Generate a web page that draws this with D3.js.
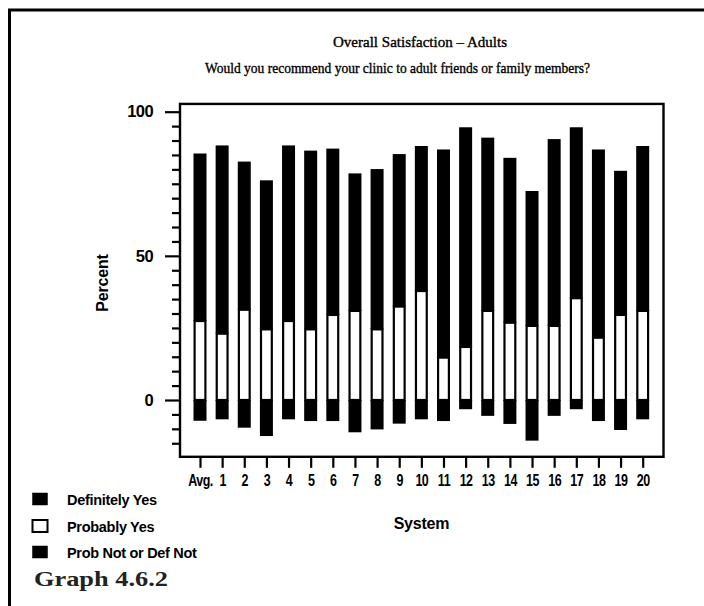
<!DOCTYPE html>
<html><head><meta charset="utf-8">
<script src="https://cdn.jsdelivr.net/npm/d3@7"></script>
<style>
html,body{margin:0;padding:0;background:#fff;}
svg{display:block;}
</style></head>
<body>
<script>
const categories = ["Avg.","1","2","3","4","5","6","7","8","9","10","11","12","13","14","15","16","17","18","19","20"];
const definitelyYes = [58.1,65.3,51.4,51.7,60.9,62.0,57.7,47.7,55.6,52.9,50.3,72.2,76.2,60.1,57.2,46.8,64.8,59.3,65.3,50.0,57.2];
const probablyYes   = [27.4,23.0,31.3,24.5,27.4,24.5,29.5,30.9,24.5,32.4,37.8,14.7,18.4,30.9,26.8,25.7,25.7,35.3,21.6,29.5,30.9];
const probNot       = [7.2,6.7,9.6,12.5,6.7,7.3,7.3,11.2,10.2,8.2,6.7,7.3,3.2,5.5,8.3,14.1,5.5,3.2,7.3,10.4,6.7];
const yMajorTicks = [0,50,100];
const yMinorTicks = [-15,-10,-5,5,10,15,20,25,30,35,40,45,55,60,65,70,75,80,85,90,95];
const legendLabels = ["Definitely Yes","Probably Yes","Prob Not or Def Not"];
const titleLines = ["Overall Satisfaction \u2013 Adults","Would you recommend your clinic to adult friends or family members?"];

const W = 704, H = 606;
const svg = d3.select("body").append("svg").attr("width", W).attr("height", H);

// outer border
svg.append("path").attr("d", "M9.5,606 L9.5,10 L704,10").attr("fill","none").attr("stroke","#000").attr("stroke-width",3);

// title
svg.append("text").attr("x",420).attr("y",47).attr("text-anchor","middle")
  .attr("font-family","Liberation Serif").attr("font-size",14.5)
  .attr("stroke","#000").attr("stroke-width",0.35)
  .attr("textLength",174).attr("lengthAdjust","spacingAndGlyphs").text(titleLines[0]);
svg.append("text").attr("x",397.5).attr("y",73).attr("text-anchor","middle")
  .attr("font-family","Liberation Serif").attr("font-size",14.5)
  .attr("stroke","#000").attr("stroke-width",0.35)
  .attr("textLength",385).attr("lengthAdjust","spacingAndGlyphs").text(titleLines[1]);

const x = d3.scalePoint().domain(categories).range([200, 642.7]);
const y = d3.scaleLinear().domain([0,100]).range([400, 111.7]);
const frameL = 180, frameR = 663.5, frameT = y(102.7), frameB = y(-19.7);
const bw = 13;

// bars
const g = svg.append("g");
categories.forEach((c,i) => {
  const cx = x(c);
  const p = probablyYes[i], d = definitelyYes[i], n = probNot[i];
  g.append("rect").attr("x",cx-bw/2).attr("width",bw)
    .attr("y",y(p+d)).attr("height",y(p)-y(p+d)).attr("fill","#000");
  g.append("rect").attr("x",cx-bw/2).attr("width",bw)
    .attr("y",y(0)).attr("height",y(-n)-y(0)).attr("fill","#000");
  g.append("rect").attr("x",cx-bw/2+1.1).attr("width",bw-2.2)
    .attr("y",y(p)).attr("height",y(0)-y(p)).attr("fill","#fff")
    .attr("stroke","#000").attr("stroke-width",2.2);
});

// frame
svg.append("rect").attr("x",frameL).attr("y",frameT).attr("width",frameR-frameL).attr("height",frameB-frameT)
  .attr("fill","none").attr("stroke","#000").attr("stroke-width",2.4);

// y axis
const yAxis = svg.append("g").attr("transform",`translate(${frameL},0)`)
  .call(d3.axisLeft(y).tickValues(yMajorTicks).tickSize(15).tickPadding(12));
yAxis.select(".domain").remove();
yAxis.selectAll("line").attr("stroke-width",2.2);
yAxis.selectAll("text").attr("font-family","Liberation Sans").attr("font-weight","bold").attr("font-size",16.5)
  .attr("letter-spacing",-0.6).attr("fill","#000");
const yMinor = svg.append("g").attr("transform",`translate(${frameL},0)`)
  .call(d3.axisLeft(y).tickValues(yMinorTicks).tickSize(8).tickFormat(""));
yMinor.select(".domain").remove();
yMinor.selectAll("line").attr("stroke-width",2.2);

// x axis
const xAxis = svg.append("g").attr("transform",`translate(0,${frameB})`)
  .call(d3.axisBottom(x).tickSize(11).tickPadding(7));
xAxis.select(".domain").remove();
xAxis.selectAll("line").attr("stroke-width",2.2);
xAxis.selectAll("text").attr("font-family","Liberation Sans").attr("font-weight","bold").attr("font-size",16)
  .attr("letter-spacing",-0.6).attr("transform","scale(0.78,1)").attr("fill","#000");

// axis titles
svg.append("text").attr("transform","translate(108,283) rotate(-90)").attr("text-anchor","middle")
  .attr("font-family","Liberation Sans").attr("font-weight","bold").attr("font-size",16)
  .attr("letter-spacing",-0.2).text("Percent");
svg.append("text").attr("x",421.5).attr("y",529).attr("text-anchor","middle")
  .attr("font-family","Liberation Sans").attr("font-weight","bold").attr("font-size",16)
  .attr("letter-spacing",-0.2).text("System");

// legend
const legY = [499, 526, 552];
const legFill = ["#000","#fff","#000"];
legendLabels.forEach((t,i) => {
  svg.append("rect").attr("x",32.5).attr("y",legY[i]-6).attr("width",15).attr("height",12)
    .attr("fill",legFill[i]).attr("stroke","#000").attr("stroke-width",i===1?2:0.5);
  svg.append("text").attr("x",67).attr("y",legY[i]+5.5)
    .attr("font-family","Liberation Sans").attr("font-weight","bold").attr("font-size",14.5)
    .attr("letter-spacing",-0.3).text(t);
});

svg.append("text").attr("x",34).attr("y",586)
  .attr("font-family","Liberation Serif").attr("font-weight","bold").attr("font-size",22)
  .attr("textLength",134).attr("lengthAdjust","spacingAndGlyphs").attr("fill","#222").text("Graph 4.6.2");
</script>
</body></html>
